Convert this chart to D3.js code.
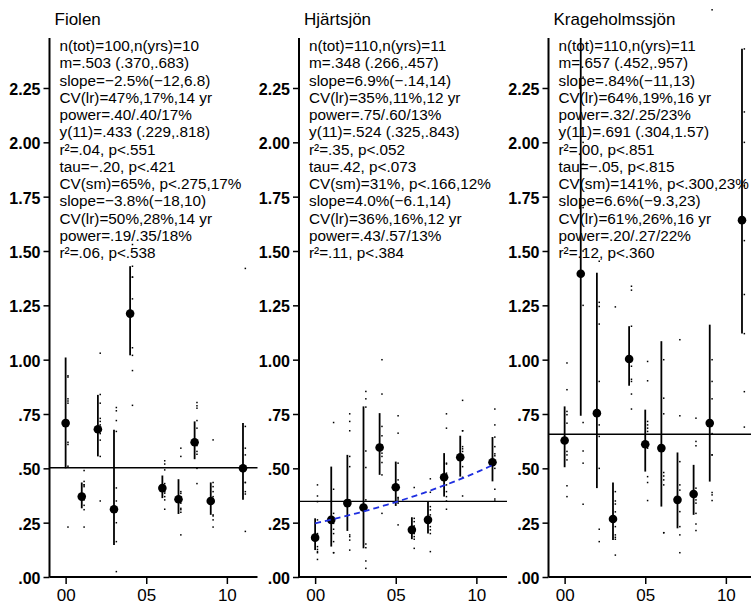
<!DOCTYPE html>
<html><head><meta charset="utf-8">
<script src="https://cdn.jsdelivr.net/npm/d3@7"></script>
<style>html,body{margin:0;padding:0;background:#fff;} svg{display:block;font-family:"Liberation Sans",Arial,sans-serif;}</style>
</head><body>
<svg id="chart" width="751" height="606"></svg>
<script>
// ---------- data ----------
const lakeNames = ["Fiolen", "Hjärtsjön", "Krageholmssjön"];
const yTickValues = [0, 0.25, 0.5, 0.75, 1.0, 1.25, 1.5, 1.75, 2.0, 2.25];
const yTickLabels = [".00", ".25", ".50", ".75", "1.00", "1.25", "1.50", "1.75", "2.00", "2.25"];
const xTickValues = [0, 5, 10];
const xTickLabels = ["00", "05", "10"];

const fiolenYears = [0, 1, 2, 3, 4, 6, 7, 8, 9, 11];
const fiolenMean = [0.708, 0.370, 0.680, 0.312, 1.212, 0.409, 0.358, 0.620, 0.350, 0.500];
const fiolenLo = [0.50, 0.316, 0.555, 0.147, 1.02, 0.363, 0.29, 0.542, 0.286, 0.355];
const fiolenHi = [1.01, 0.435, 0.838, 0.677, 1.43, 0.467, 0.45, 0.716, 0.435, 0.708];
const fiolenObs = [
  [0.23, 0.51, 0.61, 0.62, 0.72, 0.80, 0.81, 0.82, 0.92, 0.926],
  [0.23, 0.31, 0.33, 0.355, 0.38, 0.416, 0.424, 0.424, 0.44, 0.49],
  [0.35, 0.555, 0.63, 0.66, 0.70, 0.716, 0.73, 0.80, 0.84, 1.03],
  [0.025, 0.163, 0.25, 0.30, 0.35, 0.41, 0.67, 0.72, 0.765, 0.78],
  [0.79, 0.95, 1.02, 1.055, 1.20, 1.28, 1.38, 1.38, 1.43, 1.53],
  [0.312, 0.355, 0.37, 0.386, 0.393, 0.416, 0.43, 0.493, 0.52, 0.535],
  [0.194, 0.298, 0.31, 0.316, 0.34, 0.37, 0.385, 0.393, 0.555, 0.593],
  [0.43, 0.50, 0.565, 0.578, 0.605, 0.685, 0.72, 0.777, 0.788, 0.803],
  [0.23, 0.263, 0.281, 0.286, 0.358, 0.37, 0.393, 0.416, 0.435, 0.631],
  [0.21, 0.382, 0.393, 0.435, 0.435, 0.50, 0.562, 0.593, 0.693, 1.42]
];
const fiolenGrandMean = 0.503;
const fiolenStats = [
  "n(tot)=100,n(yrs)=10", "m=.503 (.370,.683)", "slope=\u22122.5%(\u221212,6.8)",
  "CV(lr)=47%,17%,14 yr", "power=.40/.40/17%", "y(11)=.433 (.229,.818)",
  "r\u00b2=.04, p<.551", "tau=\u2212.20, p<.421", "CV(sm)=65%, p<.275,17%",
  "slope=\u22123.8%(\u221218,10)", "CV(lr)=50%,28%,14 yr", "power=.19/.35/18%",
  "r\u00b2=.06, p<.538"
];

const hjartYears = [0, 1, 2, 3, 4, 5, 6, 7, 8, 9, 11];
const hjartMean = [0.181, 0.263, 0.34, 0.32, 0.596, 0.413, 0.217, 0.263, 0.459, 0.551, 0.528];
const hjartLo = [0.124, 0.14, 0.212, 0.132, 0.47, 0.327, 0.174, 0.2, 0.37, 0.462, 0.44];
const hjartHi = [0.27, 0.508, 0.562, 0.785, 0.754, 0.531, 0.275, 0.347, 0.57, 0.65, 0.644];
const hjartObs = [
  [0.081, 0.112, 0.117, 0.127, 0.14, 0.2, 0.263, 0.347, 0.373, 0.424],
  [0.112, 0.112, 0.163, 0.2, 0.22, 0.247, 0.27, 0.293, 0.404, 0.711],
  [0.124, 0.17, 0.186, 0.194, 0.355, 0.508, 0.555, 0.673, 0.716, 0.751],
  [0.04, 0.074, 0.135, 0.152, 0.355, 0.504, 0.58, 0.782, 0.82, 0.854],
  [0.293, 0.47, 0.527, 0.555, 0.57, 0.608, 0.65, 0.693, 0.842, 1.0],
  [0.24, 0.34, 0.347, 0.355, 0.363, 0.366, 0.447, 0.524, 0.662, 0.742],
  [0.132, 0.174, 0.186, 0.2, 0.217, 0.224, 0.235, 0.255, 0.27, 0.412],
  [0.117, 0.2, 0.217, 0.232, 0.263, 0.286, 0.309, 0.324, 0.39, 0.452],
  [0.312, 0.35, 0.37, 0.393, 0.424, 0.478, 0.52, 0.524, 0.685, 0.751],
  [0.373, 0.459, 0.508, 0.555, 0.578, 0.59, 0.6, 0.673, 0.673, 0.813],
  [0.35, 0.359, 0.404, 0.50, 0.558, 0.567, 0.60, 0.644, 0.70, 0.773]
];
const hjartGrandMean = 0.348;
const hjartTrendStart = 0.247;   // fitted value at year 00
const hjartTrendRate = 0.069;    // slope=6.9% per year (from the chart text)
const hjartStats = [
  "n(tot)=110,n(yrs)=11", "m=.348 (.266,.457)", "slope=6.9%(\u2212.14,14)",
  "CV(lr)=35%,11%,12 yr", "power=.75/.60/13%", "y(11)=.524 (.325,.843)",
  "r\u00b2=.35, p<.052", "tau=.42, p<.073", "CV(sm)=31%, p<.166,12%",
  "slope=4.0%(\u22126.1,14)", "CV(lr)=36%,16%,12 yr", "power=.43/.57/13%",
  "r\u00b2=.11, p<.384"
];

const krageYears = [0, 1, 2, 3, 4, 5, 6, 7, 8, 9, 11];
const krageMean = [0.628, 1.395, 0.754, 0.267, 1.003, 0.611, 0.593, 0.355, 0.382, 0.708, 1.642];
const krageLo = [0.505, 0.742, 0.409, 0.17, 0.88, 0.485, 0.324, 0.224, 0.286, 0.439, 1.12];
const krageHi = [0.785, 2.48, 1.40, 0.435, 1.154, 0.77, 1.085, 0.573, 0.516, 1.161, 2.43];
const krageObs = [
  [0.37, 0.42, 0.539, 0.562, 0.578, 0.708, 0.747, 0.762, 0.862, 0.985],
  [0.335, 0.524, 0.58, 0.711, 1.25, 1.5, 1.7, 1.9, 2.0, 2.3],
  [0.163, 0.22, 0.50, 0.647, 0.7, 0.9, 1.164, 1.245, 1.264, 1.453],
  [0.101, 0.174, 0.183, 0.194, 0.232, 0.3, 0.336, 0.35, 0.393, 1.243],
  [0.773, 0.842, 0.90, 0.91, 0.97, 0.992, 1.003, 1.154, 1.32, 1.338],
  [0.352, 0.435, 0.462, 0.593, 0.67, 0.685, 0.70, 0.716, 0.903, 0.992],
  [0.204, 0.204, 0.424, 0.447, 0.465, 0.481, 0.6, 0.751, 0.823, 1.0],
  [0.112, 0.194, 0.232, 0.301, 0.36, 0.40, 0.424, 0.531, 0.742, 1.092],
  [0.214, 0.244, 0.293, 0.34, 0.355, 0.37, 0.409, 0.604, 0.624, 0.731],
  [0.352, 0.378, 0.389, 0.562, 0.562, 0.66, 0.82, 0.9, 1.0, 2.61],
  [0.69, 0.853, 1.12, 1.3, 1.548, 1.65, 1.8, 2.0, 2.14, 2.43]
];
const krageGrandMean = 0.657;
const krageStats = [
  "n(tot)=110,n(yrs)=11", "m=.657 (.452,.957)", "slope=.84%(\u221211,13)",
  "CV(lr)=64%,19%,16 yr", "power=.32/.25/23%", "y(11)=.691 (.304,1.57)",
  "r\u00b2=.00, p<.851", "tau=\u2212.05, p<.815", "CV(sm)=141%, p<.300,23%",
  "slope=6.6%(\u22129.3,23)", "CV(lr)=61%,26%,16 yr", "power=.20/.27/22%",
  "r\u00b2=.12, p<.360"
];

// ---------- layout ----------
const panels = [
  {name: lakeNames[0], years: fiolenYears, mean: fiolenMean, lo: fiolenLo, hi: fiolenHi, obs: fiolenObs, m: fiolenGrandMean, stats: fiolenStats},
  {name: lakeNames[1], years: hjartYears, mean: hjartMean, lo: hjartLo, hi: hjartHi, obs: hjartObs, m: hjartGrandMean, stats: hjartStats,
   trend: {start: hjartTrendStart, rate: hjartTrendRate}},
  {name: lakeNames[2], years: krageYears, mean: krageMean, lo: krageLo, hi: krageHi, obs: krageObs, m: krageGrandMean, stats: krageStats}
];
const panelLeft = [49.5, 299, 548.5];
const panelW = 208;
const yTop = 38, yBottom = 577;

const svg = d3.select("#chart");
const y = d3.scaleLinear().domain([0, 2.48]).range([yBottom, yTop]);

panels.forEach((p, i) => {
  const g = svg.append("g").attr("transform", `translate(${panelLeft[i]},0)`);
  const x = d3.scaleLinear().domain([-1, 11.9]).range([0, panelW]);

  // title
  g.append("text").attr("x", 5).attr("y", 25).attr("font-size", 17).attr("fill", "#000").text(p.name);

  // stats text
  g.append("g").selectAll("text").data(p.stats).join("text")
    .attr("x", 10).attr("y", (d, k) => 51 + k * 17.25)
    .attr("font-size", 15.3).attr("fill", "#000").text(d => d);

  // individual observations
  const obsFlat = [];
  p.years.forEach((yr, k) => p.obs[k].forEach(v => obsFlat.push({yr, v})));
  g.append("g").selectAll("rect").data(obsFlat).join("rect")
    .attr("x", d => x(d.yr) + 1.6).attr("y", d => y(d.v) - 0.7)
    .attr("width", 1.5).attr("height", 1.5).attr("fill", "#000");

  // error bars
  g.append("g").selectAll("line").data(p.years).join("line")
    .attr("x1", d => x(d)).attr("x2", d => x(d))
    .attr("y1", (d, k) => y(p.lo[k])).attr("y2", (d, k) => y(p.hi[k]))
    .attr("stroke", "#000").attr("stroke-width", 1.8);

  // means
  g.append("g").selectAll("circle").data(p.years).join("circle")
    .attr("cx", d => x(d)).attr("cy", (d, k) => y(p.mean[k]))
    .attr("r", 4.3).attr("fill", "#000");

  // grand mean line
  g.append("line").attr("x1", x(-1)).attr("x2", x(11.9))
    .attr("y1", y(p.m)).attr("y2", y(p.m))
    .attr("stroke", "#000").attr("stroke-width", 1.4);

  // trend line
  if (p.trend) {
    const yrsT = d3.range(0, 11.01, 0.25);
    const line = d3.line().x(d => x(d)).y(d => y(p.trend.start * Math.pow(1 + p.trend.rate, d)));
    g.append("path").attr("d", line(yrsT)).attr("fill", "none")
      .attr("stroke", "#1f2fe0").attr("stroke-width", 1.8).attr("stroke-dasharray", "6,4");
  }

  // y axis
  const yAxis = d3.axisLeft(y).tickValues(yTickValues).tickFormat((d, k) => yTickLabels[k])
    .tickSizeInner(6).tickSizeOuter(0).tickPadding(3);
  const ya = g.append("g").call(yAxis);
  ya.select(".domain").attr("stroke-width", 2).attr("d", `M0,${yTop}V${yBottom}`);
  ya.selectAll(".tick line").attr("stroke-width", 1.5);
  ya.selectAll(".tick text").attr("font-size", 16).attr("font-weight", "bold")
    .attr("font-family", "Liberation Sans, Arial, sans-serif").attr("fill", "#000").attr("dy", "0.4em");

  // x axis
  const xAxis = d3.axisBottom(x).tickValues(xTickValues).tickFormat((d, k) => xTickLabels[k])
    .tickSizeInner(7).tickSizeOuter(0).tickPadding(5);
  const xa = g.append("g").attr("transform", `translate(0,${yBottom})`).call(xAxis);
  xa.select(".domain").attr("stroke-width", 2).attr("d", `M0,0H${panelW}`);
  xa.selectAll(".tick line").attr("stroke-width", 1.5);
  xa.selectAll(".tick text").attr("font-size", 17)
    .attr("font-family", "Liberation Sans, Arial, sans-serif").attr("fill", "#000");
});
</script>
</body></html>
